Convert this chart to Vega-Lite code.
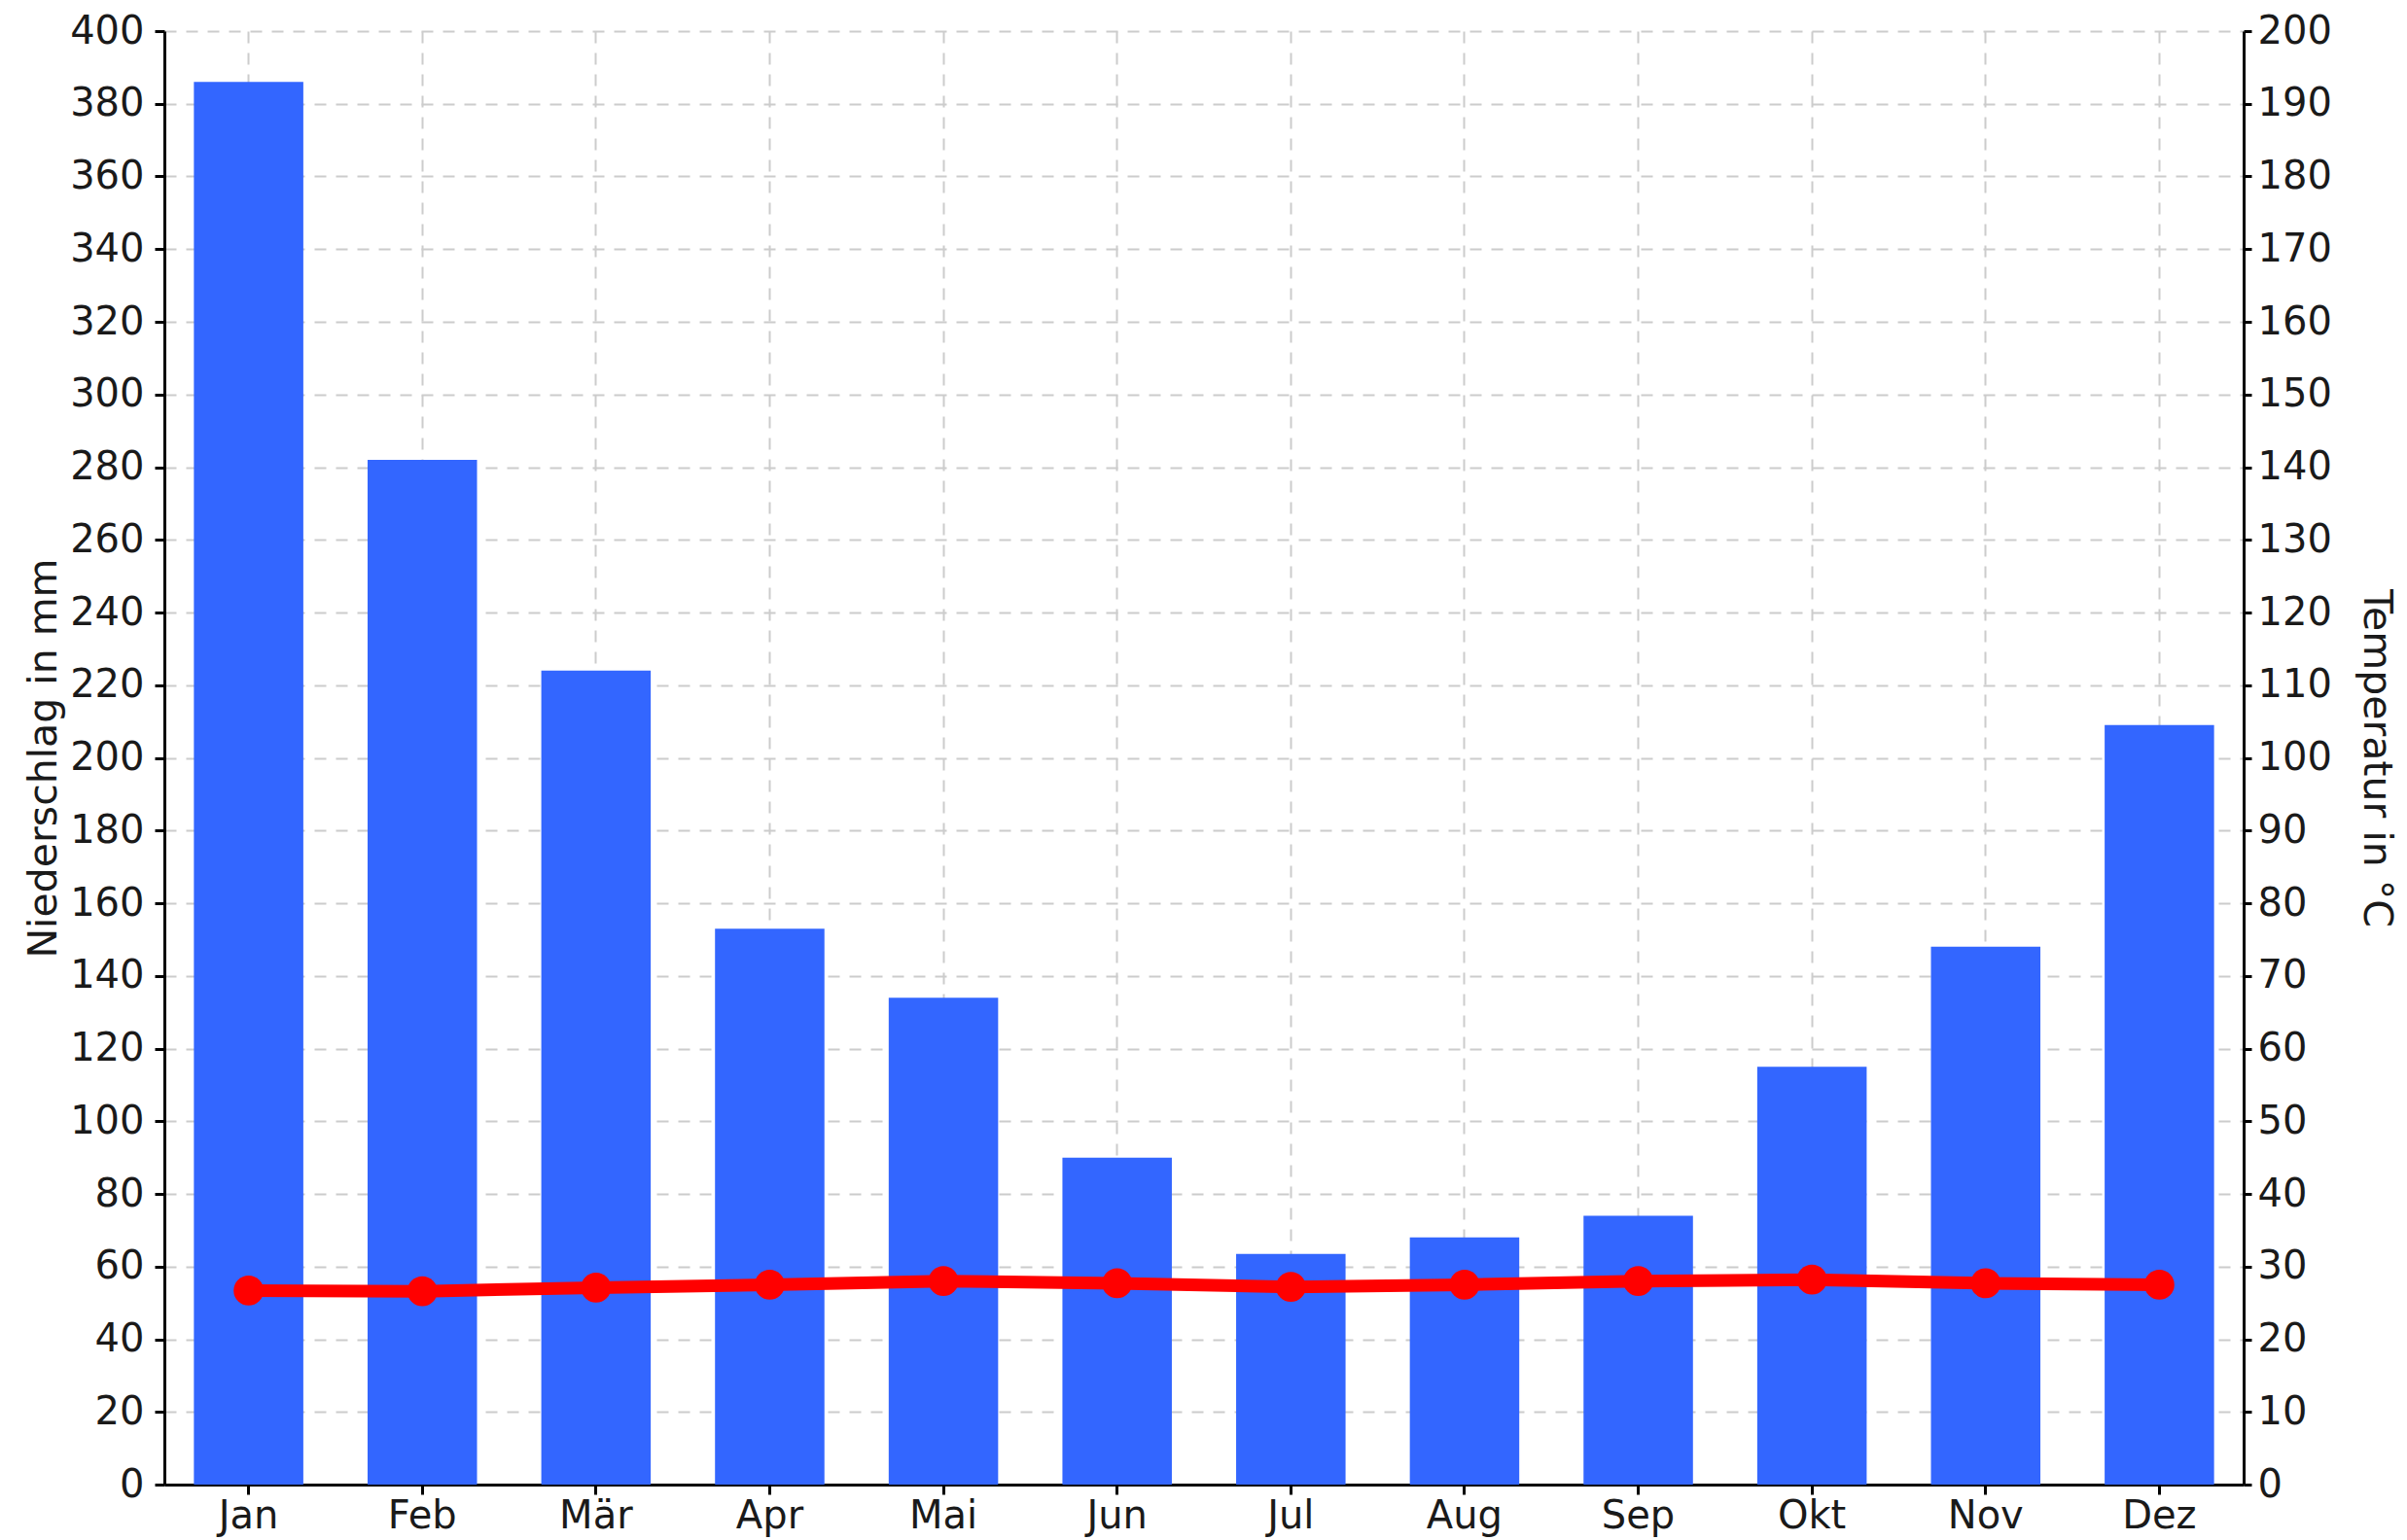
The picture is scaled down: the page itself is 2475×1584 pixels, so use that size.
{
  "$schema": "https://vega.github.io/schema/vega-lite/v6.json",
  "width": 2138,
  "height": 1495,
  "autosize": "none",
  "padding": {"left": 169, "top": 32, "right": 168, "bottom": 57},
  "background": "white",
  "config": {
    "view": {"stroke": null},
    "font": "DejaVu Sans",
    "axis": {
      "labelFont": "DejaVu Sans",
      "labelFontSize": 40,
      "labelColor": "#1a1a1a",
      "titleFont": "DejaVu Sans",
      "titleFontSize": 41,
      "titleFontWeight": "normal",
      "titleColor": "#1a1a1a",
      "domainColor": "black",
      "domainWidth": 3,
      "tickColor": "black",
      "tickWidth": 3,
      "gridColor": "#cccccc",
      "gridWidth": 2,
      "gridDash": [12, 10]
    }
  },
  "data": {
    "values": [
      {"Monat": "Jan", "Niederschlag": 386, "Temperatur": 26.7},
      {"Monat": "Feb", "Niederschlag": 282, "Temperatur": 26.6},
      {"Monat": "Mär", "Niederschlag": 224, "Temperatur": 27.1},
      {"Monat": "Apr", "Niederschlag": 153, "Temperatur": 27.5},
      {"Monat": "Mai", "Niederschlag": 134, "Temperatur": 28.0},
      {"Monat": "Jun", "Niederschlag": 90, "Temperatur": 27.7},
      {"Monat": "Jul", "Niederschlag": 63.5, "Temperatur": 27.2},
      {"Monat": "Aug", "Niederschlag": 68, "Temperatur": 27.5},
      {"Monat": "Sep", "Niederschlag": 74, "Temperatur": 28.0},
      {"Monat": "Okt", "Niederschlag": 115, "Temperatur": 28.2},
      {"Monat": "Nov", "Niederschlag": 148, "Temperatur": 27.7},
      {"Monat": "Dez", "Niederschlag": 209, "Temperatur": 27.5}
    ]
  },
  "encoding": {
    "x": {
      "field": "Monat",
      "type": "nominal",
      "sort": null,
      "scale": {"paddingInner": 0.37, "paddingOuter": 0.17},
      "axis": {
        "title": null,
        "labelAngle": 0,
        "tickSize": 10,
        "labelPadding": 2,
        "grid": true,
        "zindex": 0
      }
    }
  },
  "layer": [
    {
      "layer": [
        {
          "mark": {"type": "bar", "color": "#3366ff"},
          "encoding": {
            "y": {
              "field": "Niederschlag",
              "type": "quantitative",
              "scale": {"domain": [0, 400], "nice": false, "zero": true},
              "axis": {
                "title": "Niederschlag in mm",
                "values": [0, 20, 40, 60, 80, 100, 120, 140, 160, 180, 200, 220, 240, 260, 280, 300, 320, 340, 360, 380, 400],
                "grid": true,
                "tickSize": 10,
                "labelPadding": 11,
                "titlePadding": 5,
                "zindex": 0
              }
            }
          }
        },
        {
          "mark": {"type": "rule", "color": "black", "strokeWidth": 3},
          "encoding": {"y": {"datum": 0}}
        }
      ]
    },
    {
      "mark": {
        "type": "line",
        "color": "#ff0000",
        "strokeWidth": 13,
        "point": {"filled": true, "size": 950, "color": "#ff0000"}
      },
      "encoding": {
        "y": {
          "field": "Temperatur",
          "type": "quantitative",
          "scale": {"domain": [0, 200], "nice": false},
          "axis": {
            "orient": "right",
            "title": "Temperatur in °C",
            "values": [0, 10, 20, 30, 40, 50, 60, 70, 80, 90, 100, 110, 120, 130, 140, 150, 160, 170, 180, 190, 200],
            "grid": false,
            "tickSize": 8,
            "labelPadding": 6,
            "titlePadding": 24
          }
        }
      }
    }
  ],
  "resolve": {"scale": {"y": "independent"}}
}
